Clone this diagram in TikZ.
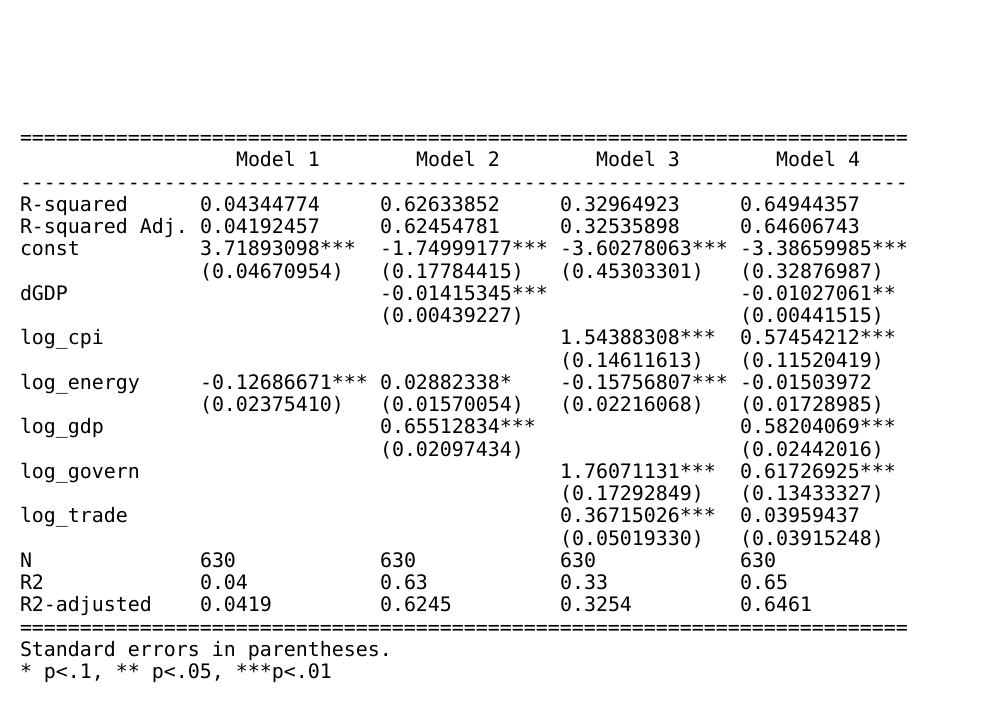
\documentclass[tikz,border=0pt]{standalone}
\usepackage{fontspec}
\setmonofont{DejaVu Sans Mono}
\begin{document}
\begin{tikzpicture}[x=1pt,y=-1pt,
  cellst/.style={anchor=base west,inner sep=0pt,outer sep=0pt,font=\ttfamily\fontsize{19.93}{22}\selectfont,text=black}]
\useasboundingbox[fill=white] (0,0) rectangle (1008,720);
\newcommand{\cellat}[4]{\node[cellst] (#1) at ({20+#2*12},{144.5+(#3-1)*22.25}) {#4};}
\cellat{topr}{0}{1}{==========================================================================}
\cellat{m1}{18}{2}{Model 1}
\cellat{m2}{33}{2}{Model 2}
\cellat{m3}{48}{2}{Model 3}
\cellat{m4}{63}{2}{Model 4}
\cellat{midr}{0}{3}{--------------------------------------------------------------------------}
% R-squared
\cellat{a0}{0}{4}{R-squared}
\cellat{a1}{15}{4}{0.04344774}
\cellat{a2}{30}{4}{0.62633852}
\cellat{a3}{45}{4}{0.32964923}
\cellat{a4}{60}{4}{0.64944357}
% R-squared Adj.
\cellat{b0}{0}{5}{R-squared Adj.}
\cellat{b1}{15}{5}{0.04192457}
\cellat{b2}{30}{5}{0.62454781}
\cellat{b3}{45}{5}{0.32535898}
\cellat{b4}{60}{5}{0.64606743}
% const
\cellat{c0}{0}{6}{const}
\cellat{c1}{15}{6}{3.71893098***}
\cellat{c2}{30}{6}{-1.74999177***}
\cellat{c3}{45}{6}{-3.60278063***}
\cellat{c4}{60}{6}{-3.38659985***}
\cellat{cs1}{15}{7}{(0.04670954)}
\cellat{cs2}{30}{7}{(0.17784415)}
\cellat{cs3}{45}{7}{(0.45303301)}
\cellat{cs4}{60}{7}{(0.32876987)}
% dGDP
\cellat{d0}{0}{8}{dGDP}
\cellat{d2}{30}{8}{-0.01415345***}
\cellat{d4}{60}{8}{-0.01027061**}
\cellat{ds2}{30}{9}{(0.00439227)}
\cellat{ds4}{60}{9}{(0.00441515)}
% log_cpi
\cellat{e0}{0}{10}{log\_cpi}
\cellat{e3}{45}{10}{1.54388308***}
\cellat{e4}{60}{10}{0.57454212***}
\cellat{es3}{45}{11}{(0.14611613)}
\cellat{es4}{60}{11}{(0.11520419)}
% log_energy
\cellat{f0}{0}{12}{log\_energy}
\cellat{f1}{15}{12}{-0.12686671***}
\cellat{f2}{30}{12}{0.02882338*}
\cellat{f3}{45}{12}{-0.15756807***}
\cellat{f4}{60}{12}{-0.01503972}
\cellat{fs1}{15}{13}{(0.02375410)}
\cellat{fs2}{30}{13}{(0.01570054)}
\cellat{fs3}{45}{13}{(0.02216068)}
\cellat{fs4}{60}{13}{(0.01728985)}
% log_gdp
\cellat{g0}{0}{14}{log\_gdp}
\cellat{g2}{30}{14}{0.65512834***}
\cellat{g4}{60}{14}{0.58204069***}
\cellat{gs2}{30}{15}{(0.02097434)}
\cellat{gs4}{60}{15}{(0.02442016)}
% log_govern
\cellat{h0}{0}{16}{log\_govern}
\cellat{h3}{45}{16}{1.76071131***}
\cellat{h4}{60}{16}{0.61726925***}
\cellat{hs3}{45}{17}{(0.17292849)}
\cellat{hs4}{60}{17}{(0.13433327)}
% log_trade
\cellat{i0}{0}{18}{log\_trade}
\cellat{i3}{45}{18}{0.36715026***}
\cellat{i4}{60}{18}{0.03959437}
\cellat{is3}{45}{19}{(0.05019330)}
\cellat{is4}{60}{19}{(0.03915248)}
% N
\cellat{n0}{0}{20}{N}
\cellat{n1}{15}{20}{630}
\cellat{n2}{30}{20}{630}
\cellat{n3}{45}{20}{630}
\cellat{n4}{60}{20}{630}
% R2
\cellat{r0}{0}{21}{R2}
\cellat{r1}{15}{21}{0.04}
\cellat{r2}{30}{21}{0.63}
\cellat{r3}{45}{21}{0.33}
\cellat{r4}{60}{21}{0.65}
% R2-adjusted
\cellat{s0}{0}{22}{R2-adjusted}
\cellat{s1}{15}{22}{0.0419}
\cellat{s2}{30}{22}{0.6245}
\cellat{s3}{45}{22}{0.3254}
\cellat{s4}{60}{22}{0.6461}
\cellat{botr}{0}{23}{==========================================================================}
\cellat{note1}{0}{24}{Standard errors in parentheses.}
\cellat{note2}{0}{25}{* p<.1, ** p<.05, ***p<.01}
\end{tikzpicture}
\end{document}
